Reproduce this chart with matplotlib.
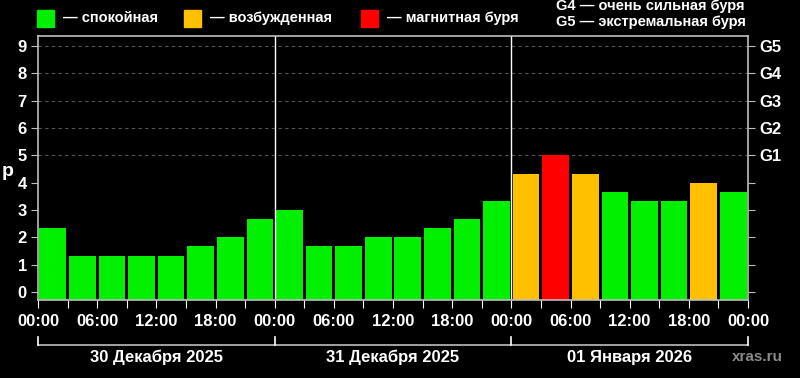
import numpy as np
import matplotlib.pyplot as plt

plt.rcParams['font.family'] = ['Liberation Sans', 'DejaVu Sans']

# Kp index, one value per 3 hours
kp_values = [2.33, 1.33, 1.33, 1.33, 1.33, 1.67, 2.0, 2.67,
             3.0, 1.67, 1.67, 2.0, 2.0, 2.33, 2.67, 3.33,
             4.33, 5.0, 4.33, 3.67, 3.33, 3.33, 4.0, 3.67]
day_labels = ['30 Декабря 2025', '31 Декабря 2025', '01 Января 2026']
storm_labels = ['G1', 'G2', 'G3', 'G4', 'G5']
legend_labels = ['— спокойная', '— возбужденная', '— магнитная буря']

GREEN = '#00f000'
YELLOW = '#ffc000'
RED = '#ff0000'
SPINE = '#bdbdbd'
BASE = -0.3


def kp_color(v):
    if v >= 5:
        return RED
    if v >= 4:
        return YELLOW
    return GREEN


fig = plt.figure(figsize=(8, 3.78), dpi=100, facecolor='black')
ax = fig.add_axes([0.0475, 0.2063, 0.8875, 0.6985])
ax.set_facecolor('black')

n = len(kp_values)
x = np.arange(n) * 3 + 1.5
heights = [v - BASE for v in kp_values]
ax.bar(x, heights, bottom=BASE, width=2.7, color=[kp_color(v) for v in kp_values])

ax.set_xlim(0, 72)
ax.set_ylim(BASE, 9.37)

# grid only on storm levels
for lvl in range(5, 10):
    ax.axhline(lvl, color='#555555', lw=0.8, ls=(0, (3, 3)), zorder=0)

# day separators
for d in (24, 48):
    ax.axvline(d, color='white', lw=1)

for s in ax.spines.values():
    s.set_color(SPINE)
    s.set_linewidth(1.2)

ax.set_yticks(range(10))
ax.set_yticklabels([str(i) for i in range(10)], fontsize=12, fontweight='bold', color='white')
ax.tick_params(axis='y', colors=SPINE, length=5, labelcolor='white', pad=3)

ax.set_xticks(np.arange(0, 73, 3))
xt = []
for i in range(25):
    h = (i * 3) % 24
    xt.append(f'{h:02d}:00' if h % 6 == 0 else '')
ax.set_xticklabels(xt, fontsize=12, fontweight='bold', color='white')
ax.tick_params(axis='x', colors='white', length=6, labelcolor='white', pad=4)

ax2 = ax.twinx()
ax2.set_ylim(ax.get_ylim())
ax2.set_yticks(range(10))
ax2.set_yticklabels([''] * 5 + storm_labels, fontsize=12, fontweight='bold', color='white')
ax2.tick_params(axis='y', colors=SPINE, length=5, labelcolor='white', pad=3)
for s in ax2.spines.values():
    s.set_visible(False)

# bracket below the time axis
trans = ax.get_xaxis_transform()
ax.plot([0, 72], [-0.170, -0.170], color=SPINE, lw=1.2, transform=trans, clip_on=False)
for d in (0, 24, 48, 72):
    ax.plot([d, d], [-0.140, -0.170], color='white', lw=1.2, transform=trans, clip_on=False)
for i, lab in enumerate(day_labels):
    ax.text(12 + 24 * i, -0.216, lab, transform=trans, ha='center', va='center',
            fontsize=12, fontweight='bold', color='white')

fig.text(757 / 800, 1 - 357 / 378, 'xras.ru', ha='center', va='center',
         fontsize=11, fontweight='bold', color='#8a8a8a')

fig.text(8 / 800, 1 - 172 / 378, 'p', ha='center', va='center',
         fontsize=14, fontweight='bold', color='white')

# legend row
sq_x = [37, 184, 361]
cols = [GREEN, YELLOW, RED]
for px, c, lab in zip(sq_x, cols, legend_labels):
    fig.patches.append(plt.Rectangle((px / 800, 1 - 27 / 378), 17 / 800, 17 / 378,
                                     transform=fig.transFigure, color=c))
    fig.text((px + 26) / 800, 1 - 18 / 378, lab, ha='left', va='center',
             fontsize=10.5, fontweight='bold', color='white')

fig.text(556 / 800, 1 - 6 / 378, 'G4 — очень сильная буря', ha='left', va='center',
         fontsize=10.5, fontweight='bold', color='white')
fig.text(556 / 800, 1 - 22 / 378, 'G5 — экстремальная буря', ha='left', va='center',
         fontsize=10.5, fontweight='bold', color='white')

fig.savefig('out.png', dpi=100, facecolor='black')
